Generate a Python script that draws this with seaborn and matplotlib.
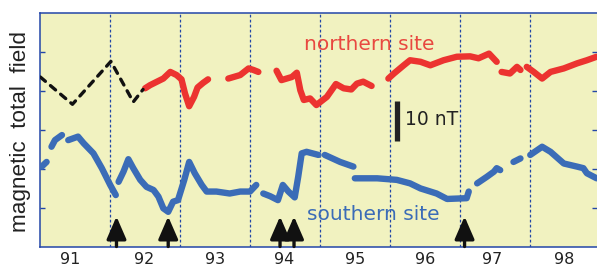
import numpy as np
import pandas as pd
import matplotlib
matplotlib.use("Agg")
import matplotlib.pyplot as plt
import seaborn as sns

# ---------------- data (years since 1900, field in nT, arbitrary offset) ----------------
north_x = [92.50, 92.57, 92.67, 92.76, 92.86, 92.95, 93.02, 93.07, 93.13, 93.20, 93.25, 93.33, 93.40, np.nan,
           93.69, 93.86, 93.98, 94.05, 94.12, np.nan,
           94.38, 94.45, 94.60, 94.67, 94.72, 94.77, 94.86, 94.95, 95.10, 95.23, 95.34, 95.45, 95.53, 95.62, 95.74, np.nan,
           95.98, 96.06, 96.20, 96.29, 96.44, 96.58, 96.77, 96.96, 97.15, 97.27, 97.42, 97.53, np.nan,
           97.60, 97.72, 97.82, 97.87, np.nan,
           97.96, 98.06, 98.18, 98.30, 98.49, 98.68, 98.82, 98.96]
north_y = [40.6, 41.4, 42.3, 43.1, 44.8, 44.0, 42.9, 39.3, 36.0, 38.4, 40.8, 42.0, 42.9, np.nan,
           43.1, 44.0, 45.7, 45.3, 44.8, np.nan,
           45.1, 42.7, 43.5, 44.6, 40.1, 37.6, 38.0, 36.3, 38.4, 41.7, 40.6, 40.3, 41.8, 42.3, 41.2, np.nan,
           43.1, 44.4, 46.5, 47.8, 47.4, 46.5, 47.8, 48.7, 48.8, 48.3, 49.5, 47.4, np.nan,
           44.8, 44.4, 46.1, 45.3, np.nan,
           46.1, 44.8, 43.1, 44.8, 45.7, 47.0, 47.8, 48.7]

gap_x = [91.00, 91.46, 92.01, 92.33, 92.47]
gap_y = [43.5, 36.5, 47.5, 37.1, 40.3]

south_x = [91.02, 91.09, np.nan,
           91.16, 91.21, 91.31, np.nan,
           91.40, 91.54, 91.62, 91.76, 91.88, 92.00, 92.08, np.nan,
           92.12, 92.19, 92.26, 92.33, 92.43, 92.52, 92.62, 92.69, 92.76, 92.83, 92.90, 92.97, 93.06, 93.13,
           93.21, 93.31, 93.38, 93.52, 93.71, 93.86, 94.00, 94.09, np.nan,
           94.19, 94.29, 94.40, 94.47, 94.55, 94.64, 94.69, 94.74, 94.81, 94.98, np.nan,
           95.07, 95.29, 95.48, np.nan,
           95.50, 95.72, 95.82, 96.10, 96.29, 96.44, 96.67, 96.82, 97.10, 97.13, np.nan,
           97.25, 97.39, 97.49, 97.53, 97.58, np.nan,
           97.77, 97.87, np.nan,
           98.01, 98.18, 98.30, 98.49, 98.68, 98.77, 98.82, 98.96]
south_y = [20.5, 21.7, np.nan,
           25.6, 27.3, 28.6, np.nan,
           27.3, 28.2, 26.5, 23.9, 20.1, 15.8, 13.2, np.nan,
           16.6, 19.2, 22.4, 20.1, 17.1, 15.3, 14.5, 12.8, 9.8, 8.9, 11.5, 11.9, 17.1, 21.7,
           18.8, 15.8, 14.1, 14.1, 13.6, 14.1, 14.1, 15.8, np.nan,
           13.6, 12.9, 11.9, 15.8, 14.1, 12.6, 17.9, 23.9, 24.3, 23.5, np.nan,
           23.5, 21.7, 20.5, np.nan,
           17.5, 17.5, 17.5, 17.1, 16.2, 14.9, 13.6, 12.2, 12.4, 14.1, np.nan,
           16.2, 17.9, 19.2, 20.1, 19.6, np.nan,
           21.7, 22.6, np.nan,
           23.5, 25.6, 24.3, 21.3, 20.5, 20.1, 18.8, 17.5]

event_x = [92.09, 92.83, 94.43, 94.63, 97.07]
year_labels = ["91", "92", "93", "94", "95", "96", "97", "98"]
year_pos = [91.43, 92.48, 93.5, 94.49, 95.51, 96.5, 97.47, 98.49]
scale_nT = 10


def to_df(xs, ys):
    seg, s = [], 0
    for v in xs:
        if np.isnan(v):
            s += 1
        seg.append(s)
    df = pd.DataFrame({"x": xs, "y": ys, "seg": seg})
    return df.dropna()


RED = "#ec3330"
BLUE = "#3b6cb7"
AXC = "#2346a8"
BG = "#f1f2c0"

sns.set_theme(style="white")
plt.rcParams["font.family"] = ["DejaVu Sans"]

fig = plt.figure(figsize=(5.97, 2.66), dpi=100)
ax = fig.add_axes([40.3 / 597, 19.5 / 266, 1 - 40.3 / 597, 233.8 / 266])
ax.set_facecolor(BG)

ax.set_xlim(91.0, 98.965)
ax.set_ylim(0, 60)

# year boundaries
for yr in range(92, 99):
    ax.axvline(yr, color=AXC, lw=0.9, ls=(0, (2.2, 1.8)), zorder=1)

dn = to_df(north_x, north_y)
ds = to_df(south_x, south_y)
sns.lineplot(data=dn, x="x", y="y", units="seg", estimator=None, sort=False,
             color=RED, lw=4.6, ax=ax, solid_capstyle="round", solid_joinstyle="round", zorder=3)
sns.lineplot(data=ds, x="x", y="y", units="seg", estimator=None, sort=False,
             color=BLUE, lw=4.6, ax=ax, solid_capstyle="round", solid_joinstyle="round", zorder=3)
gl = ax.plot(gap_x, gap_y, color="#111111", lw=2.4, zorder=3)[0]
gl.set_dashes((2.0, 2.0))
gl.set_dash_capstyle("round")

# arrows marking events
for ex in event_x:
    ax.annotate("", xy=(ex, 7.7), xytext=(ex, 0.0),
                arrowprops=dict(arrowstyle="-|>,head_length=1.15,head_width=0.5",
                                lw=2.4, color="#111111", shrinkA=0, shrinkB=0),
                annotation_clip=False, zorder=4)

# scale bar
ax.plot([96.11, 96.11], [27.0, 27.0 + scale_nT + 0.3], color="#222222", lw=3.8,
        solid_capstyle="butt", zorder=4)
ax.text(96.22, 31.2, "10 nT", fontsize=13.5, color="#222222", va="baseline", ha="left")

ax.text(94.77, 50.4, "northern site", fontsize=14.5, color="#e84840", va="baseline", ha="left")
ax.text(94.82, 6.8, "southern site", fontsize=14.5, color=BLUE, va="baseline", ha="left")

ax.set_xlabel("")
ax.set_ylabel("")
ax.set_xticks(year_pos)
ax.set_xticklabels(year_labels, fontsize=11.5, color="#222222")
ax.set_yticks([10, 20, 30, 40, 50])
ax.set_yticklabels([])
ax.tick_params(axis="x", length=0, pad=4)
ax.tick_params(axis="y", direction="in", length=3.5, width=1, color=AXC,
               left=True, right=True)

for side in ["left", "top", "bottom"]:
    ax.spines[side].set_color(AXC)
    ax.spines[side].set_linewidth(1.1)
    ax.spines[side].set_visible(True)
ax.spines["right"].set_visible(False)

fig.text(20.5 / 597, 1 - 131.5 / 266, "magnetic  total  field", rotation=90,
         fontsize=16.2, family=["Liberation Sans", "DejaVu Sans"], color="#222222",
         ha="center", va="center")

fig.savefig("out.png", dpi=100, facecolor="white")
